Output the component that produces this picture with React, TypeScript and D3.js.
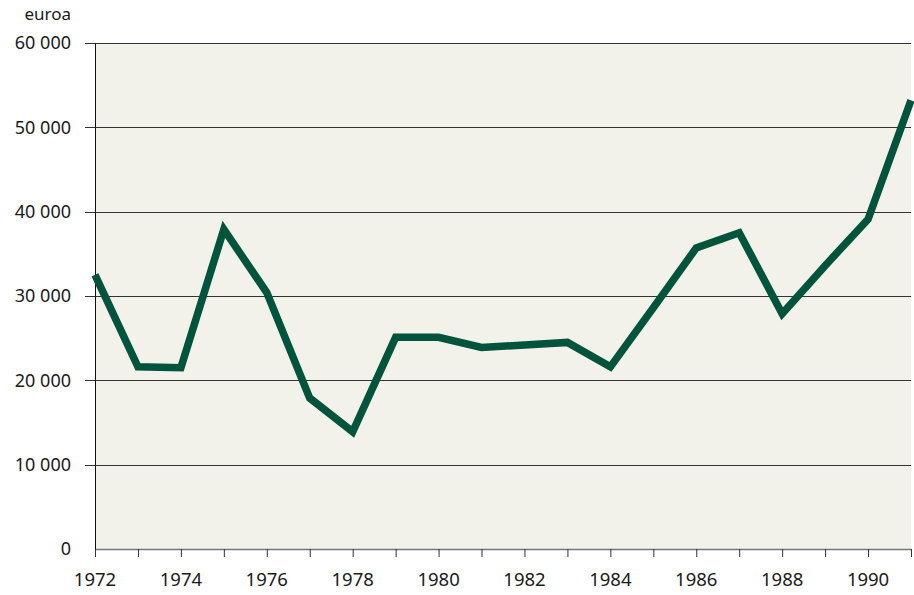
import React, { useEffect, useRef } from 'react';
import * as d3 from 'd3';

// values in euros per year
const years = [1972, 1973, 1974, 1975, 1976, 1977, 1978, 1979, 1980, 1981,
  1982, 1983, 1984, 1985, 1986, 1987, 1988, 1989, 1990, 1991];
const values = [32500, 21600, 21500, 37900, 30400, 17900, 13900, 25100, 25100, 23900,
  24200, 24500, 21600, 28600, 35700, 37500, 27900, 33600, 39100, 53200];
const yTicks = [0, 10000, 20000, 30000, 40000, 50000, 60000];
const xLabelYears = [1972, 1974, 1976, 1978, 1980, 1982, 1984, 1986, 1988, 1990];
const unitLabel = 'euroa';

const W = 914;
const H = 595;
const margin = { top: 43, right: 3, bottom: 46, left: 95 };
const font = '"Noto Sans", "DejaVu Sans", sans-serif';

const App = () => {
  const ref = useRef<SVGSVGElement>(null);

  useEffect(() => {
    const svg = d3.select(ref.current);
    svg.selectAll('*').remove();

    const width = W - margin.left - margin.right;
    const height = H - margin.top - margin.bottom;

    const x = d3.scaleLinear().domain([1972, 1991]).range([0, width]);
    const y = d3.scaleLinear().domain([0, 60000]).range([height, 0]);

    const g = svg.append('g')
      .attr('transform', 'translate(' + margin.left + ',' + margin.top + ')');

    g.append('rect')
      .attr('width', width)
      .attr('height', height)
      .attr('fill', '#f2f1ea');

    // horizontal grid lines, poking out to the left of the axis
    g.selectAll('.grid')
      .data(yTicks.filter(d => d > 0))
      .enter().append('line')
      .attr('class', 'grid')
      .attr('x1', -10)
      .attr('x2', width)
      .attr('y1', d => Math.round(y(d)) + 0.5)
      .attr('y2', d => Math.round(y(d)) + 0.5)
      .attr('stroke', '#333')
      .attr('stroke-width', 1.2);

    // y labels
    g.selectAll('.ylab')
      .data(yTicks)
      .enter().append('text')
      .attr('class', 'ylab')
      .attr('x', -24)
      .attr('y', d => y(d))
      .attr('dy', '0.36em')
      .attr('text-anchor', 'end')
      .attr('font-family', font)
      .attr('font-size', 18)
      .attr('fill', '#1a1a1a')
      .text(d => d3.format(',')(d).replace(/,/g, ' '));

    svg.append('text')
      .attr('x', 71)
      .attr('y', 20)
      .attr('text-anchor', 'end')
      .attr('font-family', font)
      .attr('font-size', 17)
      .attr('fill', '#1a1a1a')
      .text(unitLabel);

    // x axis
    const xAxis = g.append('g')
      .attr('transform', 'translate(0,' + height + ')')
      .call(d3.axisBottom(x).tickValues(years).tickSize(8).tickFormat(() => '').tickSizeOuter(0));
    xAxis.select('.domain').attr('stroke', '#777').attr('stroke-width', 1.5);
    xAxis.selectAll('.tick line').attr('stroke', '#333');

    g.selectAll('.xlab')
      .data(xLabelYears)
      .enter().append('text')
      .attr('class', 'xlab')
      .attr('x', d => x(d))
      .attr('y', height + 37)
      .attr('text-anchor', 'middle')
      .attr('font-family', font)
      .attr('font-size', 18.5)
      .attr('fill', '#1a1a1a')
      .text(d => d);

    // left axis line
    g.append('line')
      .attr('x1', 0.5).attr('x2', 0.5)
      .attr('y1', 0).attr('y2', height)
      .attr('stroke', '#111');

    const line = d3.line<number>()
      .x((d, i) => x(years[i]))
      .y(d => y(d));

    g.append('path')
      .datum(values)
      .attr('d', line)
      .attr('fill', 'none')
      .attr('stroke', '#00543c')
      .attr('stroke-width', 7.5)
      .attr('stroke-linejoin', 'miter');
  }, []);

  return (
    <svg ref={ref} width={W} height={H}
      style={{ position: 'absolute', left: 0, top: 0, background: '#fff' }} />
  );
};

export default App;
